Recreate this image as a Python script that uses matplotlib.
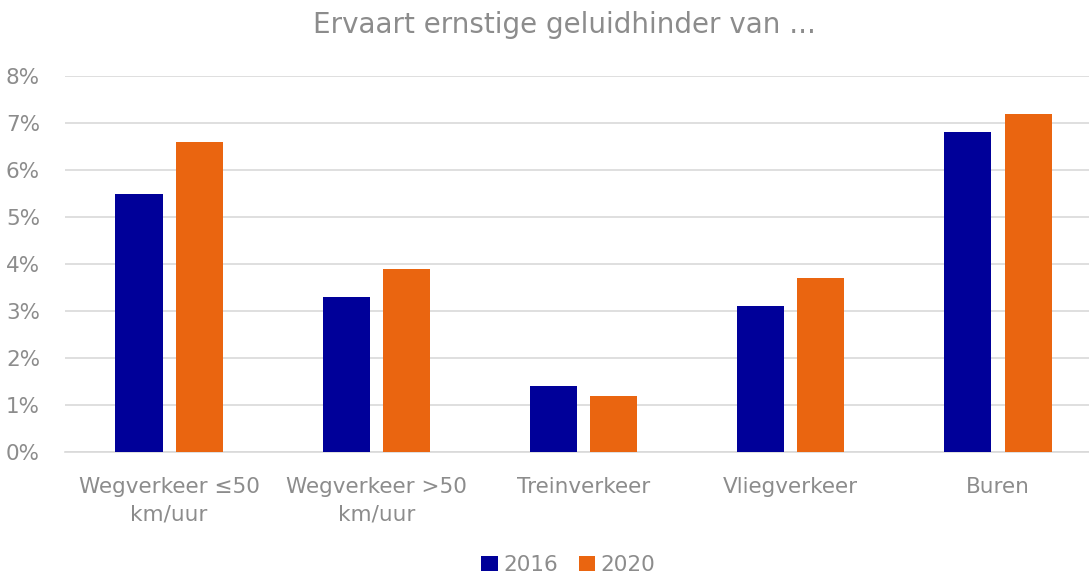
import matplotlib
matplotlib.use('Agg')
import matplotlib.pyplot as plt
import numpy as np
from matplotlib.ticker import FuncFormatter

# data
categories = ['Wegverkeer ≤50\nkm/uur', 'Wegverkeer >50\nkm/uur', 'Treinverkeer', 'Vliegverkeer', 'Buren']
years = ['2016', '2020']
vals_2016 = [5.5, 3.3, 1.4, 3.1, 6.8]
vals_2020 = [6.6, 3.9, 1.2, 3.7, 7.2]
colors = ['#000099', '#EA6510']
grey = '#8C8C8C'

plt.rcParams['font.family'] = ['DejaVu Sans']

fig = plt.figure(figsize=(10.89, 5.74), dpi=100)
ax = fig.add_axes([65 / 1089, 1 - 452 / 574, 1 - 65 / 1089, (452 - 76) / 574])

x = np.arange(len(categories))
w = 0.227
off = 0.145
ax.bar(x - off, vals_2016, w, color=colors[0], label=years[0], zorder=3)
ax.bar(x + off, vals_2020, w, color=colors[1], label=years[1], zorder=3)

ax.set_ylim(0, 8)
ax.set_xlim(-0.502, 4.439)
ax.set_yticks(range(0, 9))
ax.yaxis.set_major_formatter(FuncFormatter(lambda v, p: f'{int(v)}%'))
ax.grid(axis='y', color='#D9D9D9', linewidth=1.2, zorder=0)
for s in ['top', 'right', 'left']:
    ax.spines[s].set_visible(False)
ax.spines['bottom'].set_color('#D9D9D9')
ax.spines['bottom'].set_linewidth(1.2)
ax.tick_params(axis='both', length=0, colors=grey, labelsize=15.5)
ax.tick_params(axis='y', pad=18)
ax.tick_params(axis='x', pad=18)
ax.set_xticks(x)
ax.set_xticklabels(categories, color=grey, linespacing=1.45)

fig.text(0.518, 1 - 25 / 574, 'Ervaart ernstige geluidhinder van ...', ha='center', va='center',
         fontsize=20, color=grey)

fig.legend(loc='center', bbox_to_anchor=(0.522, 1 - 565 / 574), ncol=2, frameon=False,
           fontsize=15.5, handlelength=0.75, handleheight=0.75, handletextpad=0.25, columnspacing=1.0,
           labelcolor=grey)

fig.savefig('out.png', dpi=100)
